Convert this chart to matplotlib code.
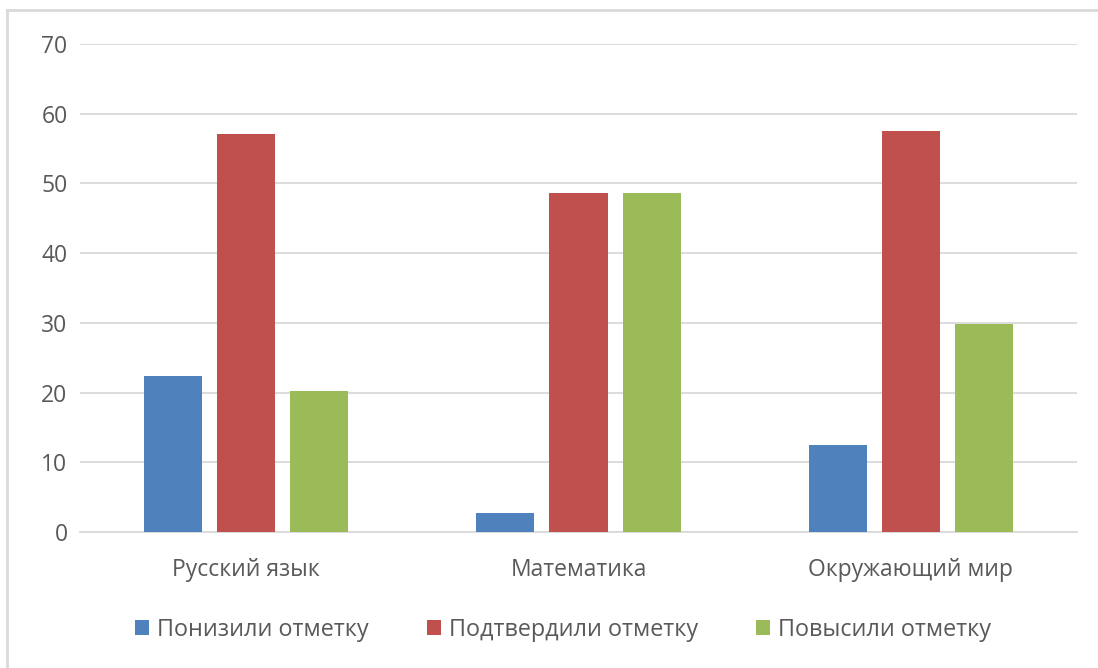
import matplotlib.pyplot as plt
import numpy as np
from matplotlib.lines import Line2D

categories = ['Русский язык', 'Математика', 'Окружающий мир']
series_names = ['Понизили отметку', 'Подтвердили отметку', 'Повысили отметку']
lowered = [22.4, 2.7, 12.5]
confirmed = [57.1, 48.6, 57.5]
raised = [20.2, 48.6, 29.8]
colors = ['#4f81bd', '#c0504d', '#9bbb59']

plt.rcParams['font.family'] = ['Open Sans', 'DejaVu Sans']
text_col = '#595959'

fig = plt.figure(figsize=(10.98, 6.68), dpi=100)
ax = fig.add_axes([80 / 1098, 1 - 532 / 668, (1077 - 80) / 1098, (532 - 44) / 668])

x = np.arange(len(categories))
w = 0.175
step = 0.22
for i, (vals, name) in enumerate(zip([lowered, confirmed, raised], series_names)):
    ax.bar(x + (i - 1) * step, vals, width=w, color=colors[i], label=name, zorder=3)

ax.set_xlim(-0.5, 2.5)
ax.set_ylim(0, 70)
ax.set_yticks(range(0, 71, 10))
ax.set_xticks(x)
ax.set_xticklabels(categories)
ax.grid(axis='y', color='#d9d9d9', lw=1.3, zorder=0)
for s in ['top', 'right', 'left']:
    ax.spines[s].set_visible(False)
ax.spines['bottom'].set_color('#d9d9d9')
ax.spines['bottom'].set_linewidth(1.3)
ax.tick_params(axis='both', length=0, labelsize=16.5, colors=text_col)
ax.tick_params(axis='y', pad=9)
ax.tick_params(axis='x', pad=19)

leg = fig.legend(loc='center', bbox_to_anchor=(563 / 1098, 1 - 630 / 668), ncol=3, frameon=False,
                 fontsize=16.8, handlelength=0.6, handleheight=0.6, handletextpad=0.35,
                 columnspacing=2.5)
for t in leg.get_texts():
    t.set_color(text_col)

# outer chart frame (only top and left visible)
fig.add_artist(Line2D([7 / 1098, 1], [1 - 10 / 668, 1 - 10 / 668], color='#d9d9d9', lw=2, transform=fig.transFigure))
fig.add_artist(Line2D([7 / 1098, 7 / 1098], [0, 1 - 10 / 668], color='#d9d9d9', lw=2, transform=fig.transFigure))

fig.savefig('out.png', dpi=100)
